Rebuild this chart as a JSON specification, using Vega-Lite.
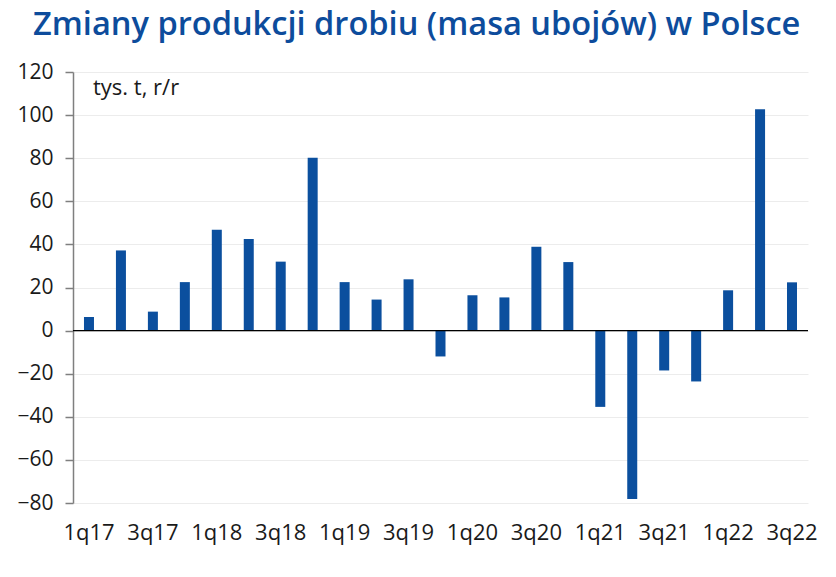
{
  "$schema": "https://vega.github.io/schema/vega-lite/v6.json",
  "width": 735,
  "height": 431,
  "autosize": {"type": "none"},
  "padding": {"left": 73, "top": 72, "right": 28, "bottom": 74},
  "background": "white",
  "title": {
    "text": "Zmiany produkcji drobiu (masa ubojów) w Polsce",
    "anchor": "start",
    "frame": "group",
    "dx": -40,
    "offset": 19,
    "font": "Open Sans",
    "fontSize": 32.6,
    "fontWeight": 600,
    "color": "#0d4c9c"
  },
  "data": {
    "values": [
      {"q": "1q17", "v": 6.3},
      {"q": "2q17", "v": 37.2},
      {"q": "3q17", "v": 8.8},
      {"q": "4q17", "v": 22.5},
      {"q": "1q18", "v": 46.8},
      {"q": "2q18", "v": 42.5},
      {"q": "3q18", "v": 32.0},
      {"q": "4q18", "v": 80.2},
      {"q": "1q19", "v": 22.5},
      {"q": "2q19", "v": 14.4},
      {"q": "3q19", "v": 23.8},
      {"q": "4q19", "v": -12.0},
      {"q": "1q20", "v": 16.4},
      {"q": "2q20", "v": 15.4},
      {"q": "3q20", "v": 38.9},
      {"q": "4q20", "v": 31.8},
      {"q": "1q21", "v": -35.4},
      {"q": "2q21", "v": -78.1},
      {"q": "3q21", "v": -18.5},
      {"q": "4q21", "v": -23.6},
      {"q": "1q22", "v": 18.7},
      {"q": "2q22", "v": 102.7},
      {"q": "3q22", "v": 22.4}
    ]
  },
  "layer": [
    {
      "mark": {"type": "bar", "color": "#0b4f9e", "size": 10},
      "encoding": {
        "x": {
          "field": "q",
          "type": "ordinal",
          "sort": null,
          "scale": {"paddingInner": 0.69, "paddingOuter": 0.345},
          "axis": {
            "title": null,
            "values": ["1q17", "3q17", "1q18", "3q18", "1q19", "3q19", "1q20", "3q20", "1q21", "3q21", "1q22", "3q22"],
            "labelAngle": 0,
            "domain": false,
            "ticks": false,
            "labelFont": "Open Sans",
            "labelFontSize": 22,
            "labelColor": "#1a1a1a",
            "labelPadding": 19
          }
        },
        "y": {
          "field": "v",
          "type": "quantitative",
          "scale": {"domain": [-80, 120], "nice": false},
          "axis": {
            "title": null,
            "values": [-80, -60, -40, -20, 0, 20, 40, 60, 80, 100, 120],
            "grid": true,
            "gridColor": "#ececec",
            "gridWidth": 1,
            "domainColor": "#7f7f7f",
            "domainWidth": 1.5,
            "tickColor": "#7f7f7f",
            "tickSize": 8,
            "tickWidth": 1.5,
            "labelFont": "Open Sans",
            "labelFontSize": 21,
            "labelColor": "#1a1a1a",
            "labelPadding": 12
          }
        }
      }
    },
    {
      "data": {"values": [{"z": 0}]},
      "mark": {"type": "rule", "color": "#000000", "strokeWidth": 1.2},
      "encoding": {"y": {"field": "z", "type": "quantitative"}}
    },
    {
      "data": {"values": [{"t": "tys. t, r/r"}]},
      "mark": {"type": "text", "font": "Open Sans", "fontSize": 22, "color": "#1a1a1a", "align": "left", "baseline": "alphabetic", "dx": 20, "dy": 0},
      "encoding": {
        "text": {"field": "t"},
        "x": {"value": 0},
        "y": {"value": 23}
      }
    }
  ],
  "config": {"view": {"stroke": null}}
}
